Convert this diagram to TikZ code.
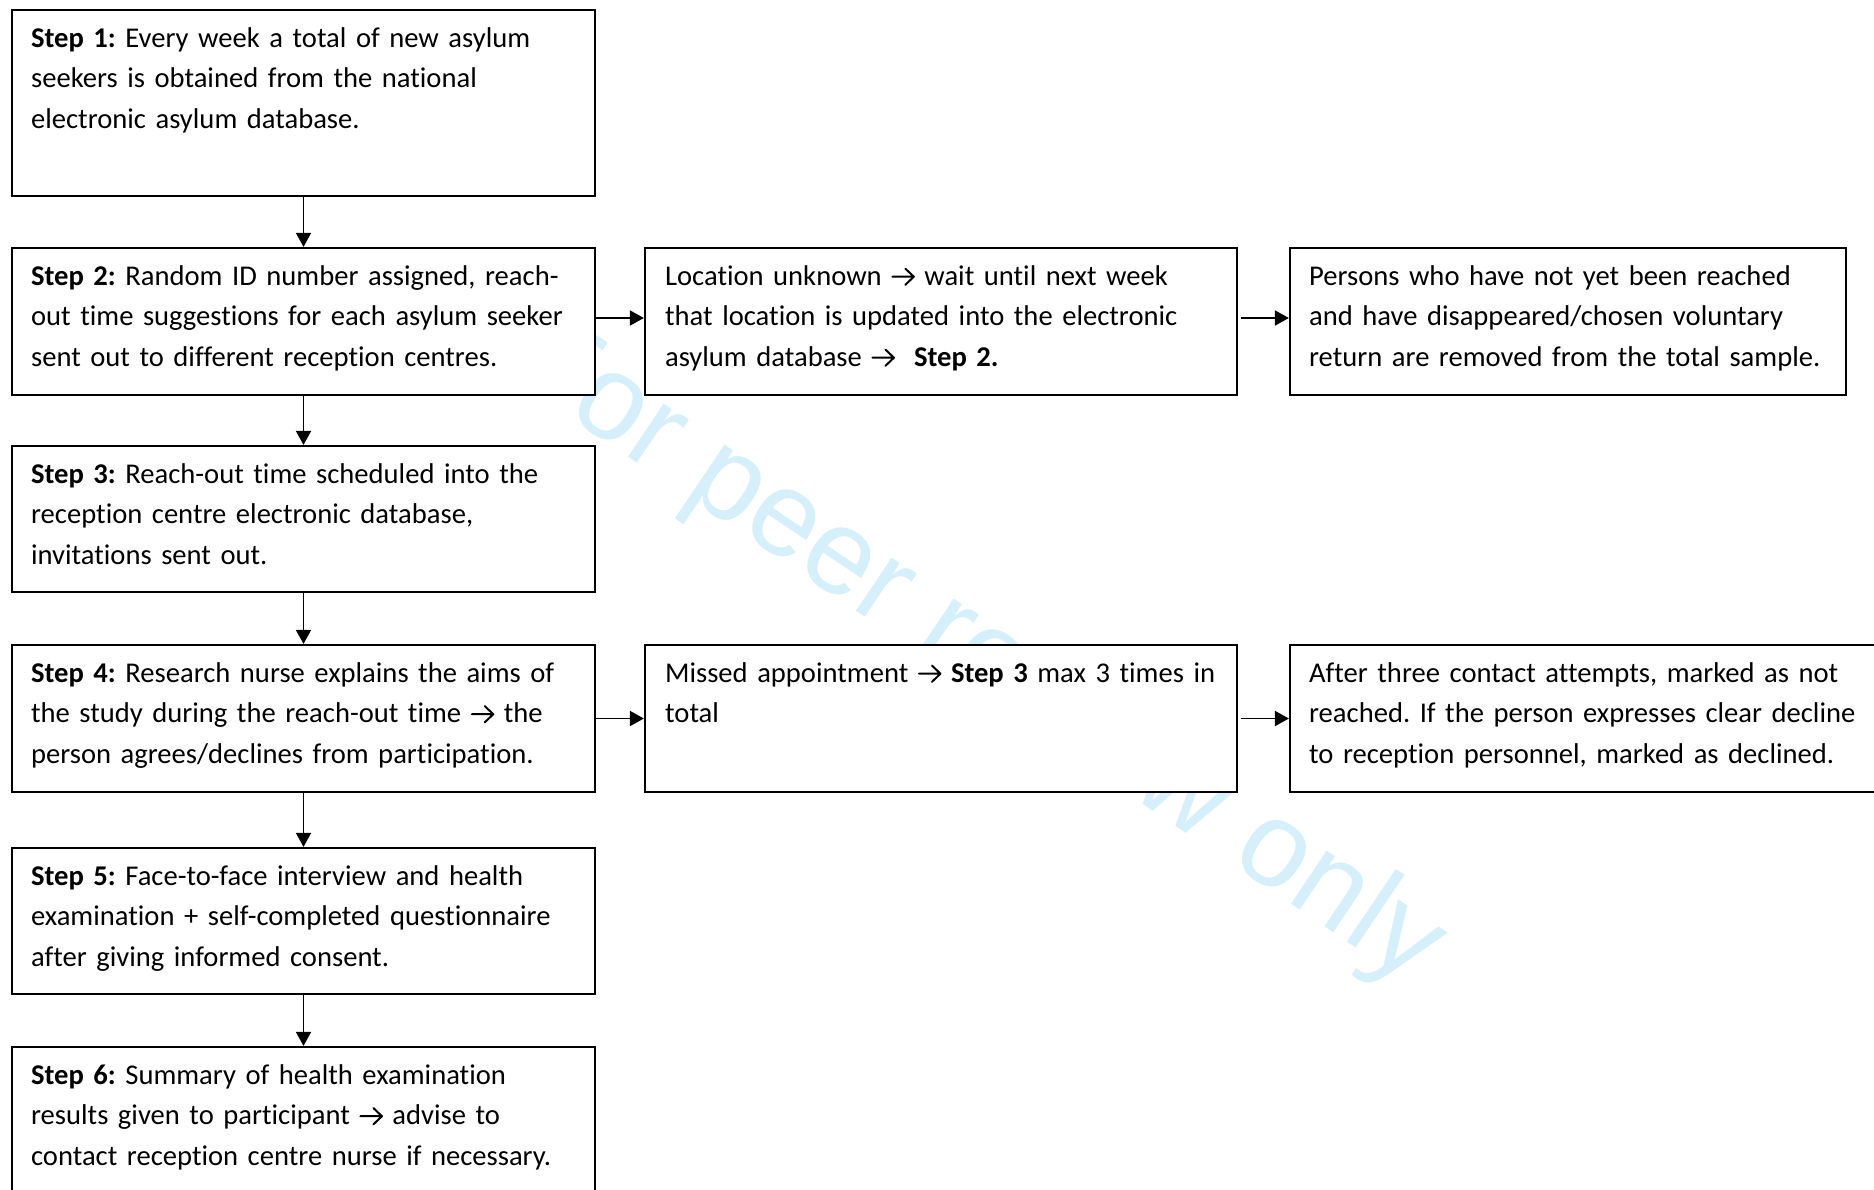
\documentclass[tikz,border=0pt]{standalone}
\usepackage{fontspec}
\setmainfont{Carlito}[Ligatures={NoCommon}]
\newfontfamily\wmfont{Liberation Sans}
\usetikzlibrary{arrows.meta}
\definecolor{wmblue}{RGB}{213,239,251}
% open chevron arrow used inside the texts
\newcommand{\toarrow}{\tikz[baseline=0pt,x=1pt,y=1pt]
  \draw[line width=2pt,line cap=round,line join=round]
  (1,8.7) -- (22.5,8.7) (14,0.6) -- (22.5,8.7) -- (14,16.8);}

\begin{document}
\frenchspacing
\begin{tikzpicture}[x=1pt,y=-1pt,
  box/.style={draw=black, line width=2.2pt, fill=white, inner sep=0pt},
  txt/.style={anchor=base west, inner sep=0pt, align=left,
    font=\fontsize{28.6}{40.5}\selectfont\frenchspacing},
  link/.style={line width=1.8pt, -{Triangle[width=15pt,length=14pt]}}]
\useasboundingbox (0,0) rectangle (1874,1189);
\fill[white] (0,0) rectangle (1874,1189);

% watermark behind the boxes
\node[font=\wmfont\fontsize{121}{145}\selectfont, text=wmblue,
      anchor=base west, rotate=-34, inner sep=0pt] (wm) at (504,373)
      {For peer review only};

% left column
\node[box, minimum width=583pt, minimum height=186pt] (s1) at (303.5,103) {};
\node[box, minimum width=583pt, minimum height=147pt] (s2) at (303.5,321.5) {};
\node[box, minimum width=583pt, minimum height=146pt] (s3) at (303.5,519) {};
\node[box, minimum width=583pt, minimum height=147pt] (s4) at (303.5,718.5) {};
\node[box, minimum width=583pt, minimum height=146pt] (s5) at (303.5,921) {};
\node[box, minimum width=583pt, minimum height=147pt] (s6) at (303.5,1120.5) {};

% middle and right columns
\node[box, minimum width=592pt, minimum height=147pt] (m1) at (941,321.5) {};
\node[box, minimum width=592pt, minimum height=147pt] (m2) at (941,718.5) {};
\node[box, minimum width=556pt, minimum height=147pt] (r1) at (1568,321.5) {};
\node[box, minimum width=600pt, minimum height=147pt] (r2) at (1590,718.5) {};

% texts
\node[txt, text width=555pt] (t1) at ([xshift=20pt,yshift=-38.5pt]s1.north west)
  {\textbf{Step 1:} Every week a total of new asylum\\
   seekers is obtained from the national\\
   electronic asylum database.};
\node[txt, text width=555pt] (t2) at ([xshift=20pt,yshift=-38.5pt]s2.north west)
  {\textbf{Step 2:} Random ID number assigned, reach-\\
   out time suggestions for each asylum seeker\\
   sent out to different reception centres.};
\node[txt, text width=555pt] (t3) at ([xshift=20pt,yshift=-38.5pt]s3.north west)
  {\textbf{Step 3:} Reach-out time scheduled into the\\
   reception centre electronic database,\\
   invitations sent out.};
\node[txt, text width=555pt] (t4) at ([xshift=20pt,yshift=-38.5pt]s4.north west)
  {\textbf{Step 4:} Research nurse explains the aims of\\
   the study during the reach-out time \toarrow{} the\\
   person agrees/declines from participation.};
\node[txt, text width=555pt] (t5) at ([xshift=20pt,yshift=-38.5pt]s5.north west)
  {\textbf{Step 5:} Face-to-face interview and health\\
   examination + self-completed questionnaire\\
   after giving informed consent.};
\node[txt, text width=555pt] (t6) at ([xshift=20pt,yshift=-38.5pt]s6.north west)
  {\textbf{Step 6:} Summary of health examination\\
   results given to participant \toarrow{} advise to\\
   contact reception centre nurse if necessary.};
\node[txt, text width=565pt] (tm1) at ([xshift=21pt,yshift=-38.5pt]m1.north west)
  {Location unknown \toarrow{} wait until next week\\
   that location is updated into the electronic\\
   asylum database \toarrow\ \ \textbf{Step 2.}};
\node[txt, text width=565pt] (tm2) at ([xshift=21pt,yshift=-38.5pt]m2.north west)
  {Missed appointment \toarrow{} \textbf{Step 3} max 3 times in\\
   total};
\node[txt, text width=540pt] (tr1) at ([xshift=20pt,yshift=-38.5pt]r1.north west)
  {Persons who have not yet been reached\\
   and have disappeared/chosen voluntary\\
   return are removed from the total sample.};
\node[txt, text width=580pt] (tr2) at ([xshift=20pt,yshift=-38.5pt]r2.north west)
  {After three contact attempts, marked as not\\
   reached. If the person expresses clear decline\\
   to reception personnel, marked as declined.};

% connectors
\draw[link] (s1.south) -- (s2.north);
\draw[link] (s2.south) -- (s3.north);
\draw[link] (s3.south) -- (s4.north);
\draw[link] (s4.south) -- (s5.north);
\draw[link] (s5.south) -- (s6.north);
\draw[link] ([yshift=3.5pt]s2.east) -- ([yshift=3.5pt]m1.west);
\draw[link] ([yshift=3.5pt,xshift=3pt]m1.east) -- ([yshift=3.5pt]r1.west);
\draw[link] (s4.east) -- (m2.west);
\draw[link] ([xshift=3pt]m2.east) -- (r2.west);
\end{tikzpicture}
\end{document}
